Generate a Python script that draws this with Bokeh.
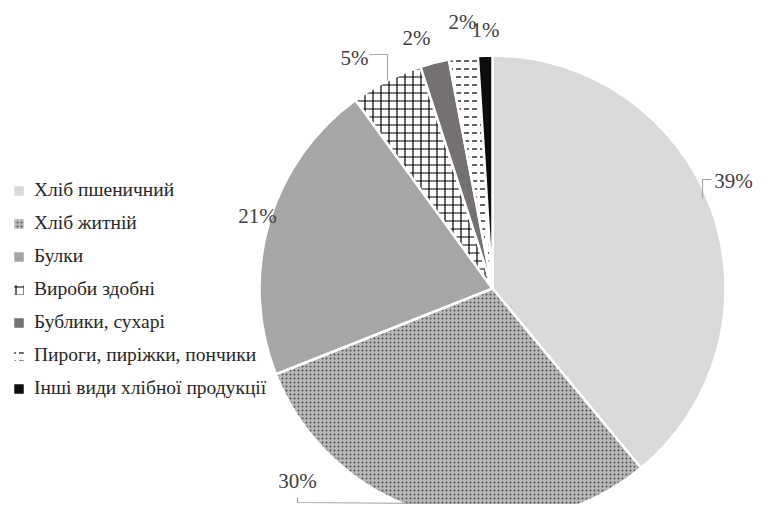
import math
from bokeh.plotting import figure
from bokeh.models import Range1d, Legend, LegendItem, ColumnDataSource
from bokeh.core.properties import value
from bokeh.embed import file_html
from bokeh.resources import INLINE

categories = ["Хліб пшеничний", "Хліб житній", "Булки", "Вироби здобні",
              "Бублики, сухарі", "Пироги, пиріжки, пончики", "Інші види хлібної продукції"]
shares = [39, 30, 21, 5, 2, 2, 1]
labels = ["39%", "30%", "21%", "5%", "2%", "2%", "1%"]

fills = ["#d9d9d9", "#b8b8b8", "#a6a6a6", "white", "#767171", "white", "#0d0d0d"]
hatches = [" ", "dot", " ", "cross", " ", "horizontal_dash", " "]
hatch_colors = ["black", "#4d4d4d", "black", "black", "black", "black", "black"]
hatch_scales = [6, 4, 6, 8, 6, 8, 6]

SERIF = "Liberation Serif"

# page-pixel layout (x right, y up; 1 unit = 1 px)
W, H = 754, 504
CX, CY, R = 492, 232, 233
label_x = [733, 297, 257, 354, 416, 462, 485]
label_y = [340, 40, 305, 463, 483, 499, 491]

total = float(sum(shares))
starts, ends = [], []
cum = 0.0
for s in shares:
    starts.append(math.pi / 2 - 2 * math.pi * cum / total)
    cum += s
    ends.append(math.pi / 2 - 2 * math.pi * cum / total)

p = figure(width=W, height=H, output_backend="svg", toolbar_location=None,
           x_range=Range1d(0, W), y_range=Range1d(520 - H, 520),
           min_border=0, min_border_left=0, min_border_right=0,
           min_border_top=0, min_border_bottom=0)
p.axis.visible = False
p.grid.visible = False
p.outline_line_color = None
p.background_fill_color = "white"
p.border_fill_color = "white"

items = []
for i, cat in enumerate(categories):
    r = p.wedge(x=CX, y=CY, radius=R, start_angle=starts[i], end_angle=ends[i],
                direction="clock", fill_color=fills[i], line_color="white", line_width=2.5,
                hatch_pattern=hatches[i], hatch_color=hatch_colors[i],
                hatch_scale=hatch_scales[i], hatch_weight=1.2)
    items.append(LegendItem(label=cat, renderers=[r]))

# leader lines
p.multi_line(xs=[[711, 702, 702], [369, 387, 387], [297, 297, 437]],
             ys=[[341, 341, 322], [466, 466, 440], [23, 18, 17]],
             line_color="#a6a6a6", line_width=1.2)

src = ColumnDataSource(dict(x=label_x, y=label_y, t=labels))
p.text(x="x", y="y", text="t", source=src, text_font=value(SERIF),
       text_font_size="21px", text_color="#404040",
       text_align="center", text_baseline="middle")

legend = Legend(items=items, location=(11, 105), orientation="vertical",
                glyph_width=15, glyph_height=15, label_standoff=8, spacing=11,
                label_height=20, padding=0, margin=0,
                border_line_color=None, background_fill_alpha=0,
                label_text_font=SERIF, label_text_font_size="19.5px",
                label_text_color="#262626")
p.add_layout(legend)

open("out.html", "w").write(file_html(p, INLINE))
